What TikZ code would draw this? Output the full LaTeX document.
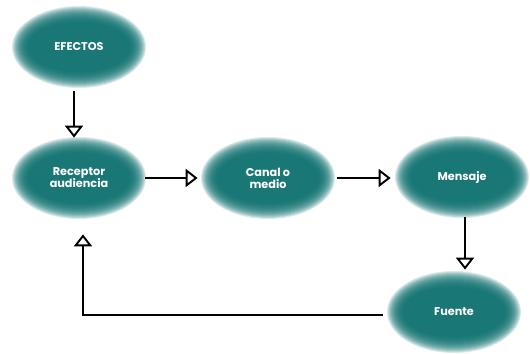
\documentclass[tikz,border=0pt]{standalone}
\usepackage{fontspec}
\setsansfont{Poppins}
\usetikzlibrary{arrows.meta,backgrounds,shapes.geometric}
\definecolor{blob}{RGB}{10,110,108}

\begin{document}
\begin{tikzpicture}
          [blob node/.style={ellipse, minimum width=2.64cm, minimum height=1.6cm, inner sep=0pt, text=white, align=center, font=\sffamily\bfseries\fontsize{6.4}{6.9}\selectfont},
           link/.style={line width=1.1pt, -{Triangle[open, width=0.36cm, length=0.24cm, line width=1.1pt]}}]
        \useasboundingbox (0,0) rectangle (10.6,7.08);
          \node [blob node] (efectos) at (1.58,6.14) {EFECTOS};
          \node [blob node] (receptor) at (1.58,3.52) {Receptor\\audiencia};
          \node [blob node] (canal) at (5.36,3.52) {Canal o\\medio};
          \node [blob node] (mensaje) at (9.24,3.54) {Mensaje};
          \node [blob node] (fuente) at (9.08,0.84) {Fuente};
        % fuzzy ellipses behind the texts
        \begin{scope}[on background layer]
          \foreach \n in {efectos,receptor,canal,mensaje,fuente}{
            \foreach \k in {0,...,16}
              \fill [blob, opacity=0.15] (\n) ellipse [x radius={1.34cm-\k*0.02cm}, y radius={0.82cm-\k*0.02cm}];
          }
        \end{scope}
          \draw [link, shorten <=0.08cm] ([xshift=-0.1cm]efectos.south) -- ([xshift=-0.1cm]receptor.north);
          \draw [link, shorten >=0.08cm] (receptor.east) -- (canal.west);
          \draw [link, shorten <=0.06cm, shorten >=0.1cm] (canal.east) -- (canal.east -| mensaje.west);
          \draw [link] ([xshift=0.06cm]mensaje.south) -- ([xshift=0.06cm,yshift=0.04cm]mensaje.south |- fuente.north);
          \draw [link, shorten >=0.32cm] ([xshift=-0.1cm,yshift=-0.06cm]fuente.west) -| ([xshift=0.08cm]receptor.south);
        \end{tikzpicture}
\end{document}
